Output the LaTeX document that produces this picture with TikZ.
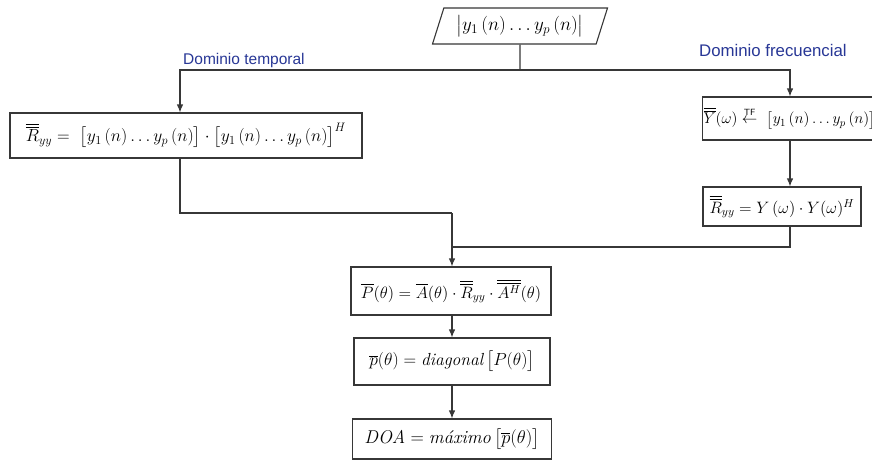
\RequirePackage{fix-cm}
\documentclass[tikz,border=0pt]{standalone}
\usepackage{amsmath}
\usepackage{fontspec}
\newfontfamily\labelfont{Liberation Sans}
\usetikzlibrary{arrows.meta,shapes.geometric,positioning}

\definecolor{linegray}{RGB}{55,55,55}
\definecolor{labelblue}{RGB}{40,55,150}

\newcommand{\fsz}[1]{\fontsize{#1}{1.2\dimexpr#1pt\relax}\selectfont}

\tikzset{
  box/.style={draw=linegray, line width=1.1pt, fill=white, inner sep=2pt,
    font=\fsz{17.5}},
  io/.style={box, trapezium, trapezium left angle=67, trapezium right angle=113,
    trapezium stretches body},
  lbl/.style={text=labelblue, inner sep=0pt, font=\labelfont\fsz{15.5}},
  wire/.style={draw=linegray, line width=1.1pt}
}

\begin{document}
\begin{tikzpicture}[x=1pt, y=-1pt, >={Latex[length=8pt,width=6.5pt]}]
\clip (0,0) rectangle (872,469);
\fill[white] (0,0) rectangle (872,469);

% entrada
\node[io, minimum width=175pt, minimum height=36pt, font=\fsz{19}] (src) at (520,26)
  {$\big|y_1\,(n)\dots y_p\,(n)\big|$};

% ramas
\node[box, minimum width=352pt, minimum height=45pt] (tdom) at (186,135.5)
  {$\overline{\overline{R}}_{yy} =\ \big[y_1\,(n)\dots y_p\,(n)\big]\cdot\big[y_1\,(n)\dots y_p\,(n)\big]^H$};
\node[box, anchor=west, text width=215pt, align=left, minimum height=43pt, inner xsep=1pt,
  font=\fsz{15.5}] (fdom1) at (702,118.5)
  {$\overline{\overline{Y}}(\omega)\overset{\textsf{\small TF}}{\leftarrow}\ \big[y_1\,(n)\dots y_p\,(n)\big]$};
\node[box, minimum width=158pt, minimum height=39pt, font=\fsz{16.5}] (fdom2) at (782,206.5)
  {$\overline{\overline{R}}_{yy} = Y\,(\omega)\cdot Y(\omega)^H$};

% columna central
\node[box, minimum width=200pt, minimum height=48pt, font=\fsz{16.5}] (pmat) at (451,291)
  {$\overline{P}(\theta) = \overline{A}(\theta)\cdot\overline{\overline{R}}_{yy}\cdot\overline{\overline{A^H}}(\theta)$};
\node[box, minimum width=196pt, minimum height=47pt] (pdiag) at (452,361.5)
  {$\overline{p}(\theta) = \mathit{diagonal}\,\big[P(\theta)\big]$};
\node[box, minimum width=199pt, minimum height=40pt, font=\fsz{18.5}] (doa) at (452,439)
  {$\mathit{DOA} = \textit{máximo}\,\big[\overline{p}(\theta)\big]$};

% etiquetas
\node[lbl, anchor=west] (ltemp) at (183,60) {Dominio temporal};
\node[lbl, anchor=west, font=\labelfont\fsz{16.8}] (lfreq) at (699,50) {Dominio frecuencial};

% puntos de paso
\coordinate (split) at (520,70);
\coordinate (lc) at (180,0);
\coordinate (rc) at (790,0);
\coordinate (jl) at (452,213);
\coordinate (jr) at (452,247);

\draw[wire] (src.south) -- (split);
\draw[wire,->] (split) -| (lc |- tdom.north);
\draw[wire,->] (split) -| (rc |- fdom1.north);
\draw[wire,->] (rc |- fdom1.south) -- (rc |- fdom2.north);
\draw[wire] (lc |- tdom.south) |- (jl);
\draw[wire] (rc |- fdom2.south) |- (jr);
\draw[wire,->] (jl) -- (jl |- pmat.north);
\draw[wire,->] (jl |- pmat.south) -- (jl |- pdiag.north);
\draw[wire,->] (jl |- pdiag.south) -- (jl |- doa.north);
\end{tikzpicture}
\end{document}
